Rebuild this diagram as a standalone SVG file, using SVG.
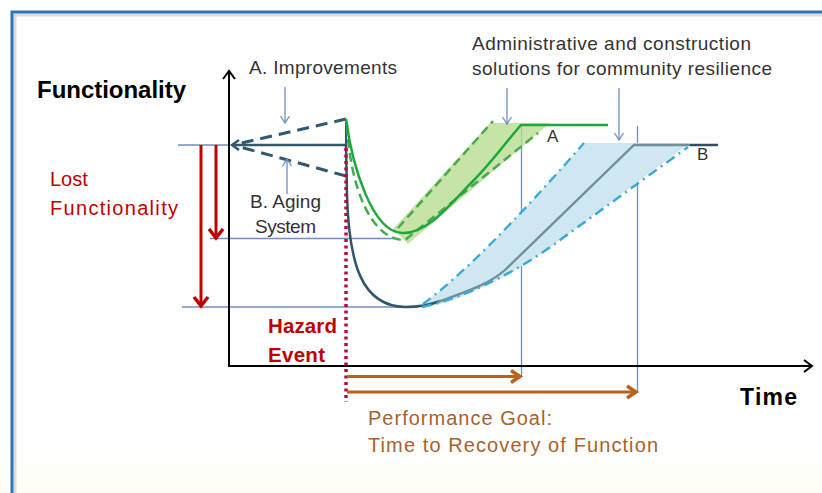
<svg xmlns="http://www.w3.org/2000/svg" width="822" height="493" viewBox="0 0 822 493">
<style>
.t{font-family:"Liberation Sans",Arial,sans-serif;fill:#333}
.b{font-weight:bold;fill:#000}
.red{fill:#c00000}
.brown{fill:#a8622c}
.thin{stroke:#6f8fc0;stroke-width:1.3;fill:none}
.note{stroke:#6f8fc0;stroke-width:1.3;fill:none;marker-end:url(#noteHead)}
</style>
<defs>
<linearGradient id="bg" x1="0" y1="0" x2="0" y2="1">
<stop offset="0.9" stop-color="#ffffff"/>
<stop offset="1" stop-color="#fdfdf4"/>
</linearGradient>
<marker id="axisHead" markerUnits="userSpaceOnUse" markerWidth="16" markerHeight="16" refX="13" refY="8" orient="auto">
<path d="M5,2 L13,8 L5,14" fill="none" stroke="#000" stroke-width="2"/>
</marker>
<marker id="redHead" markerUnits="userSpaceOnUse" markerWidth="20" markerHeight="20" refX="14" refY="10" orient="auto">
<path d="M5,3 L14,10 L5,17" fill="none" stroke="#c00000" stroke-width="3.5"/>
</marker>
<marker id="brownHead" markerUnits="userSpaceOnUse" markerWidth="20" markerHeight="20" refX="14" refY="10" orient="auto">
<path d="M5,4 L14,10 L5,16" fill="none" stroke="#b8621e" stroke-width="3.5"/>
</marker>
<marker id="noteHead" markerUnits="userSpaceOnUse" markerWidth="12" markerHeight="12" refX="10" refY="6" orient="auto">
<path d="M3,1.5 L10,6 L3,10.5" fill="none" stroke="#6f8fc0" stroke-width="1.3"/>
</marker>
<marker id="tealHead" markerUnits="userSpaceOnUse" markerWidth="14" markerHeight="14" refX="11" refY="7" orient="auto">
<path d="M4,2 L11,7 L4,12" fill="none" stroke="#31596b" stroke-width="2.5"/>
</marker>
</defs>

<g id="background">
<rect x="0" y="0" width="822" height="493" fill="url(#bg)"/>
<path d="M15,493 V15 H822" fill="none" stroke="#dcdcdc" stroke-width="3"/>
<path d="M12,493 V12 H822" fill="none" stroke="#2e75b6" stroke-width="3"/>
</g>

<g id="guides">
<line class="thin" x1="178" y1="145" x2="229" y2="145"/>
<line class="thin" x1="210" y1="238.5" x2="398" y2="238.5"/>
<line class="thin" x1="182" y1="307" x2="418" y2="307"/>
<line class="thin" x1="521.5" y1="126" x2="521.5" y2="377"/>
<line class="thin" x1="637.5" y1="126" x2="637.5" y2="392"/>
</g>

<g id="bands">
<polygon points="393,229 490,123 550,123 408,244" fill="#b9dc92" opacity="0.8"/>
<path d="M423,304 Q480,262 584,143 L690,143 L560,240 C520,270 470,298 430,307 Z" fill="#cfe7f1"/>
</g>

<g id="axes">
<line x1="229" y1="366" x2="229" y2="71" stroke="#000" stroke-width="2" marker-end="url(#axisHead)"/>
<line x1="228" y1="366" x2="812" y2="366" stroke="#000" stroke-width="2" marker-end="url(#axisHead)"/>
</g>

<g id="connectors">
<line x1="346" y1="145" x2="232" y2="145" stroke="#31596b" stroke-width="2.5" marker-end="url(#tealHead)"/>
<line x1="346" y1="119" x2="233" y2="145" stroke="#31596b" stroke-width="3" stroke-dasharray="12 7"/>
<line x1="346" y1="176" x2="233" y2="145" stroke="#31596b" stroke-width="3" stroke-dasharray="12 7"/>
<line x1="346" y1="119" x2="346" y2="145" stroke="#31596b" stroke-width="2"/>
<line x1="201" y1="145" x2="201" y2="306" stroke="#c00000" stroke-width="3" marker-end="url(#redHead)"/>
<line x1="216" y1="145" x2="216" y2="238" stroke="#c00000" stroke-width="3" marker-end="url(#redHead)"/>
<path d="M346,145 L347,195 C349,265 362,306 405,307 C420,307 430,305 440,301" fill="none" stroke="#2f5668" stroke-width="2.5"/>
<path d="M438,302 C465,292 488,285 505,270 L634,145 L690,145" fill="none" stroke="#6f8f99" stroke-width="2.3"/>
<line x1="690" y1="145" x2="718" y2="145" stroke="#2f4f5f" stroke-width="2.5"/>
<path d="M423,304 Q480,262 584,143" fill="none" stroke="#3aa8d8" stroke-width="2.3" stroke-dasharray="10 5 2 5"/>
<path d="M422,307 C470,296 520,270 560,240 L688,147" fill="none" stroke="#3aa8d8" stroke-width="2.5" stroke-dasharray="10 5 2 5"/>
<path d="M347,125 C350,185 370,240 405,240 L538,133" fill="none" stroke="#4aa84e" stroke-width="2.5" stroke-dasharray="9 5"/>
<path d="M398,228 L493,121" fill="none" stroke="#4aa84e" stroke-width="2.5" stroke-dasharray="9 5"/>
<path d="M346,119 C352,165 372,232 402,233 C428,234 452,202 474,180 C492,162 506,142 521,125 L608,125" fill="none" stroke="#1ea83c" stroke-width="2.5"/>
<line x1="346" y1="148" x2="346" y2="402" stroke="#b0103f" stroke-width="3.5" stroke-dasharray="3 3.5"/>
<line x1="347" y1="376.5" x2="520" y2="376.5" stroke="#b8621e" stroke-width="3" marker-end="url(#brownHead)"/>
<line x1="347" y1="392" x2="636" y2="392" stroke="#b8621e" stroke-width="3" marker-end="url(#brownHead)"/>
<line class="note" x1="285" y1="87" x2="285" y2="123"/>
<line class="note" x1="287" y1="194" x2="287" y2="159"/>
<line class="note" x1="507" y1="88" x2="507" y2="124"/>
<line class="note" x1="619" y1="88" x2="619" y2="140"/>
</g>

<g id="labels">
<text class="t b" x="37" y="98" font-size="24" textLength="149">Functionality</text>
<text class="t" x="249" y="74" font-size="19" textLength="148">A. Improvements</text>
<text class="t red" x="50" y="186" font-size="20">Lost</text>
<text class="t red" x="50" y="215" font-size="20" textLength="128">Functionality</text>
<text class="t" x="250" y="208" font-size="19" textLength="71">B. Aging</text>
<text class="t" x="255" y="233" font-size="19" textLength="61">System</text>
<text class="t b red" x="268" y="333" font-size="20.5" textLength="69">Hazard</text>
<text class="t b red" x="268" y="362" font-size="20.5" textLength="57">Event</text>
<text class="t" x="472" y="50" font-size="19" textLength="279">Administrative and construction</text>
<text class="t" x="472" y="75" font-size="19" textLength="300">solutions for community resilience</text>
<text class="t" x="547" y="142" font-size="17" fill="#111">A</text>
<text class="t" x="697" y="160" font-size="17" fill="#111">B</text>
<text class="t b" x="740" y="405" font-size="23" textLength="57">Time</text>
<text class="t brown" x="368" y="425" font-size="20" textLength="184">Performance Goal:</text>
<text class="t brown" x="368" y="452" font-size="20" textLength="290">Time to Recovery of Function</text>
</g>
</svg>
